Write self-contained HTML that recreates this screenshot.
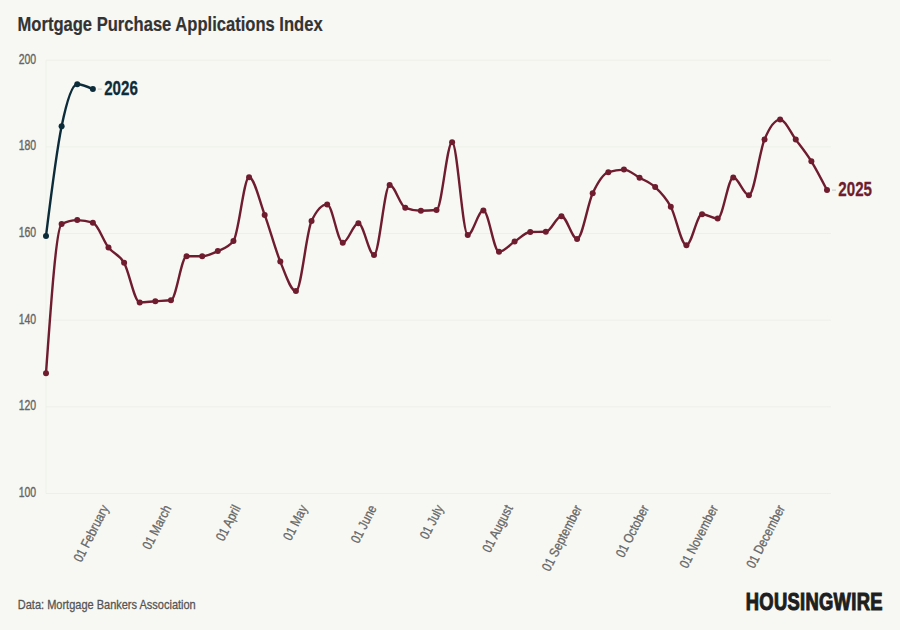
<!DOCTYPE html>
<html><head><meta charset="utf-8"><style>
html,body{margin:0;padding:0;background:#f7f8f3;}
body{width:900px;height:630px;overflow:hidden;position:relative;font-family:"Liberation Sans",sans-serif;}
svg{position:absolute;left:0;top:0;display:block;}
text{font-family:"Liberation Sans",sans-serif;}
.yl{font-size:15.2px;fill:#666;stroke:#666;stroke-width:0.4px;text-anchor:end;}
.xl{font-size:13.5px;fill:#666;stroke:#666;stroke-width:0.3px;text-anchor:end;}
.sl{font-size:19.8px;font-weight:bold;stroke-width:0.3px;}
.ti{font-size:21px;font-weight:bold;fill:#333;stroke:#333;stroke-width:0.2px;}
.ft{font-size:13.4px;fill:#555;stroke:#555;stroke-width:0.3px;}
.lg{font-size:24px;font-weight:bold;fill:#1e1e1e;stroke:#1e1e1e;stroke-width:1.1px;letter-spacing:0.4px;}
</style></head><body>
<svg width="900" height="630" viewBox="0 0 900 630">
<line x1="46" y1="60.20" x2="831" y2="60.20" stroke="#eeefea" stroke-width="1"/>
<line x1="46" y1="146.86" x2="831" y2="146.86" stroke="#eeefea" stroke-width="1"/>
<line x1="46" y1="233.52" x2="831" y2="233.52" stroke="#eeefea" stroke-width="1"/>
<line x1="46" y1="320.18" x2="831" y2="320.18" stroke="#eeefea" stroke-width="1"/>
<line x1="46" y1="406.84" x2="831" y2="406.84" stroke="#eeefea" stroke-width="1"/>
<line x1="46" y1="493.50" x2="831" y2="493.50" stroke="#eeefea" stroke-width="1"/>
<line x1="46" y1="60.20" x2="46" y2="493.50" stroke="#eeefea" stroke-width="1"/>
<text transform="translate(36.2,63.80) scale(0.69,1)" class="yl">200</text>
<text transform="translate(36.2,150.46) scale(0.69,1)" class="yl">180</text>
<text transform="translate(36.2,237.12) scale(0.69,1)" class="yl">160</text>
<text transform="translate(36.2,323.78) scale(0.69,1)" class="yl">140</text>
<text transform="translate(36.2,410.44) scale(0.69,1)" class="yl">120</text>
<text transform="translate(36.2,497.10) scale(0.69,1)" class="yl">100</text>
<text transform="translate(109.21,508) rotate(-63) scale(0.85,1)" class="xl">01 February</text>
<text transform="translate(171.69,508) rotate(-63) scale(0.85,1)" class="xl">01 March</text>
<text transform="translate(240.87,508) rotate(-63) scale(0.85,1)" class="xl">01 April</text>
<text transform="translate(307.81,508) rotate(-63) scale(0.85,1)" class="xl">01 May</text>
<text transform="translate(376.98,508) rotate(-63) scale(0.85,1)" class="xl">01 June</text>
<text transform="translate(443.93,508) rotate(-63) scale(0.85,1)" class="xl">01 July</text>
<text transform="translate(513.10,508) rotate(-63) scale(0.85,1)" class="xl">01 August</text>
<text transform="translate(582.27,508) rotate(-63) scale(0.85,1)" class="xl">01 September</text>
<text transform="translate(649.22,508) rotate(-63) scale(0.85,1)" class="xl">01 October</text>
<text transform="translate(718.39,508) rotate(-63) scale(0.85,1)" class="xl">01 November</text>
<text transform="translate(785.33,508) rotate(-63) scale(0.85,1)" class="xl">01 December</text>
<path d="M46.00,373.20C51.21,299.98 56.41,226.77 61.62,224.10C66.83,221.43 72.03,220.10 77.24,220.10C82.45,220.10 87.65,220.97 92.86,222.70C98.07,224.43 103.27,240.82 108.48,247.50C113.69,254.18 118.89,253.65 124.10,262.80C129.31,271.95 134.51,302.40 139.72,302.40C144.93,302.40 150.13,301.55 155.34,301.20C160.55,300.85 165.75,300.90 170.96,300.30C176.17,299.70 181.37,256.37 186.58,256.30C191.79,256.23 196.99,256.27 202.20,256.20C207.41,256.13 212.61,253.62 217.82,251.10C223.03,248.58 228.23,247.77 233.44,241.10C238.65,234.43 243.85,177.30 249.06,177.30C254.27,177.30 259.47,200.85 264.68,214.90C269.89,228.95 275.09,248.90 280.30,261.60C285.51,274.30 290.71,291.10 295.92,291.10C301.13,291.10 306.33,232.23 311.54,221.10C316.75,209.97 321.95,204.40 327.16,204.40C332.37,204.40 337.57,242.70 342.78,242.70C347.99,242.70 353.19,223.30 358.40,223.30C363.61,223.30 368.81,254.90 374.02,254.90C379.23,254.90 384.43,185.10 389.64,185.10C394.85,185.10 400.05,205.87 405.26,207.80C410.47,209.73 415.67,210.70 420.88,210.70C426.09,210.70 431.29,210.47 436.50,210.00C441.71,209.53 446.91,142.20 452.12,142.20C457.33,142.20 462.53,234.90 467.74,234.90C472.95,234.90 478.15,210.40 483.36,210.40C488.57,210.40 493.77,251.80 498.98,251.80C504.19,251.80 509.39,244.90 514.60,241.60C519.81,238.30 525.01,232.13 530.22,232.00C535.43,231.87 540.63,231.93 545.84,231.80C551.05,231.67 556.25,216.20 561.46,216.20C566.67,216.20 571.87,238.90 577.08,238.90C582.29,238.90 587.49,204.42 592.70,193.30C597.91,182.18 603.11,173.93 608.32,172.20C613.53,170.47 618.73,169.60 623.94,169.60C629.15,169.60 634.35,174.78 639.56,177.70C644.77,180.62 649.97,182.27 655.18,187.10C660.39,191.93 665.59,197.02 670.80,206.70C676.01,216.38 681.21,245.20 686.42,245.20C691.63,245.20 696.83,214.30 702.04,214.30C707.25,214.30 712.45,218.60 717.66,218.60C722.87,218.60 728.07,177.50 733.28,177.50C738.49,177.50 743.69,195.20 748.90,195.20C754.11,195.20 759.31,152.00 764.52,139.40C769.73,126.80 774.93,119.60 780.14,119.60C785.35,119.60 790.55,132.65 795.76,139.60C800.97,146.55 806.17,152.88 811.38,161.30C816.59,169.72 821.79,179.91 827.00,190.10" fill="none" stroke="#6e1c2e" stroke-width="2.4" stroke-linejoin="round" stroke-linecap="round"/>
<path d="M46.00,236.00C51.21,193.79 56.41,151.58 61.62,126.30C66.83,101.02 72.03,84.30 77.24,84.30C82.45,84.30 87.65,86.70 92.86,89.10" fill="none" stroke="#0d2c3a" stroke-width="2.4" stroke-linejoin="round" stroke-linecap="round"/>
<circle cx="46.00" cy="373.20" r="3.0" fill="#6e1c2e"/>
<circle cx="61.62" cy="224.10" r="3.0" fill="#6e1c2e"/>
<circle cx="77.24" cy="220.10" r="3.0" fill="#6e1c2e"/>
<circle cx="92.86" cy="222.70" r="3.0" fill="#6e1c2e"/>
<circle cx="108.48" cy="247.50" r="3.0" fill="#6e1c2e"/>
<circle cx="124.10" cy="262.80" r="3.0" fill="#6e1c2e"/>
<circle cx="139.72" cy="302.40" r="3.0" fill="#6e1c2e"/>
<circle cx="155.34" cy="301.20" r="3.0" fill="#6e1c2e"/>
<circle cx="170.96" cy="300.30" r="3.0" fill="#6e1c2e"/>
<circle cx="186.58" cy="256.30" r="3.0" fill="#6e1c2e"/>
<circle cx="202.20" cy="256.20" r="3.0" fill="#6e1c2e"/>
<circle cx="217.82" cy="251.10" r="3.0" fill="#6e1c2e"/>
<circle cx="233.44" cy="241.10" r="3.0" fill="#6e1c2e"/>
<circle cx="249.06" cy="177.30" r="3.0" fill="#6e1c2e"/>
<circle cx="264.68" cy="214.90" r="3.0" fill="#6e1c2e"/>
<circle cx="280.30" cy="261.60" r="3.0" fill="#6e1c2e"/>
<circle cx="295.92" cy="291.10" r="3.0" fill="#6e1c2e"/>
<circle cx="311.54" cy="221.10" r="3.0" fill="#6e1c2e"/>
<circle cx="327.16" cy="204.40" r="3.0" fill="#6e1c2e"/>
<circle cx="342.78" cy="242.70" r="3.0" fill="#6e1c2e"/>
<circle cx="358.40" cy="223.30" r="3.0" fill="#6e1c2e"/>
<circle cx="374.02" cy="254.90" r="3.0" fill="#6e1c2e"/>
<circle cx="389.64" cy="185.10" r="3.0" fill="#6e1c2e"/>
<circle cx="405.26" cy="207.80" r="3.0" fill="#6e1c2e"/>
<circle cx="420.88" cy="210.70" r="3.0" fill="#6e1c2e"/>
<circle cx="436.50" cy="210.00" r="3.0" fill="#6e1c2e"/>
<circle cx="452.12" cy="142.20" r="3.0" fill="#6e1c2e"/>
<circle cx="467.74" cy="234.90" r="3.0" fill="#6e1c2e"/>
<circle cx="483.36" cy="210.40" r="3.0" fill="#6e1c2e"/>
<circle cx="498.98" cy="251.80" r="3.0" fill="#6e1c2e"/>
<circle cx="514.60" cy="241.60" r="3.0" fill="#6e1c2e"/>
<circle cx="530.22" cy="232.00" r="3.0" fill="#6e1c2e"/>
<circle cx="545.84" cy="231.80" r="3.0" fill="#6e1c2e"/>
<circle cx="561.46" cy="216.20" r="3.0" fill="#6e1c2e"/>
<circle cx="577.08" cy="238.90" r="3.0" fill="#6e1c2e"/>
<circle cx="592.70" cy="193.30" r="3.0" fill="#6e1c2e"/>
<circle cx="608.32" cy="172.20" r="3.0" fill="#6e1c2e"/>
<circle cx="623.94" cy="169.60" r="3.0" fill="#6e1c2e"/>
<circle cx="639.56" cy="177.70" r="3.0" fill="#6e1c2e"/>
<circle cx="655.18" cy="187.10" r="3.0" fill="#6e1c2e"/>
<circle cx="670.80" cy="206.70" r="3.0" fill="#6e1c2e"/>
<circle cx="686.42" cy="245.20" r="3.0" fill="#6e1c2e"/>
<circle cx="702.04" cy="214.30" r="3.0" fill="#6e1c2e"/>
<circle cx="717.66" cy="218.60" r="3.0" fill="#6e1c2e"/>
<circle cx="733.28" cy="177.50" r="3.0" fill="#6e1c2e"/>
<circle cx="748.90" cy="195.20" r="3.0" fill="#6e1c2e"/>
<circle cx="764.52" cy="139.40" r="3.0" fill="#6e1c2e"/>
<circle cx="780.14" cy="119.60" r="3.0" fill="#6e1c2e"/>
<circle cx="795.76" cy="139.60" r="3.0" fill="#6e1c2e"/>
<circle cx="811.38" cy="161.30" r="3.0" fill="#6e1c2e"/>
<circle cx="827.00" cy="190.10" r="3.0" fill="#6e1c2e"/>
<circle cx="46.00" cy="236.00" r="3.0" fill="#0d2c3a"/>
<circle cx="61.62" cy="126.30" r="3.0" fill="#0d2c3a"/>
<circle cx="77.24" cy="84.30" r="3.0" fill="#0d2c3a"/>
<circle cx="92.86" cy="89.10" r="3.0" fill="#0d2c3a"/>
<line x1="97.86" y1="89.10" x2="101.86" y2="89.10" stroke="#c4c4c4" stroke-width="1"/>
<text transform="translate(104.16,95.40) scale(0.765,1)" class="sl" fill="#0d2c3a" stroke="#0d2c3a">2026</text>
<line x1="832.0" y1="190.10" x2="836.0" y2="190.10" stroke="#c4c4c4" stroke-width="1"/>
<text transform="translate(838.30,196.40) scale(0.765,1)" class="sl" fill="#6e1c2e" stroke="#6e1c2e">2025</text>
<text transform="translate(17.5,31.0) scale(0.79,1)" class="ti">Mortgage Purchase Applications Index</text>
<text transform="translate(17.8,609.2) scale(0.822,1)" class="ft">Data: Mortgage Bankers Association</text>
<text transform="translate(745.8,610.2) scale(0.765,1)" class="lg">HOUSINGWIRE</text>
</svg>
</body></html>
